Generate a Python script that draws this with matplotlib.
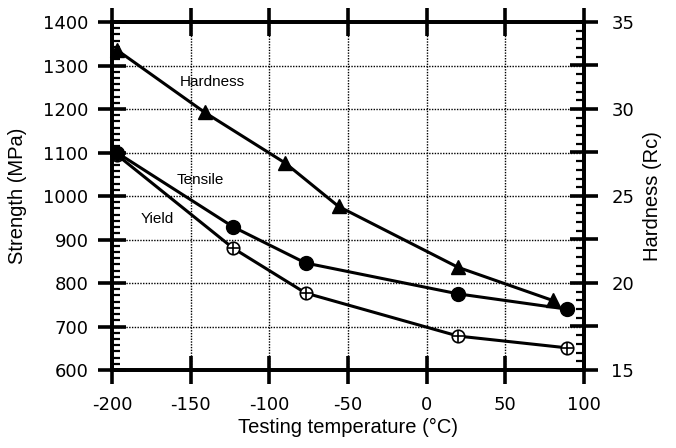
import numpy as np
import matplotlib.pyplot as plt
from matplotlib.ticker import MultipleLocator

# Data
temp_hard = [-197, -141, -90, -56, 20, 80]
hardness = [33.4, 29.8, 26.9, 24.4, 20.9, 19.0]

temp_str = [-197, -123, -77, 20, 89]
tensile = [1100, 929, 846, 775, 740]
yield_str = [1095, 880, 777, 678, 651]

x_ticks = [-200, -150, -100, -50, 0, 50, 100]
y_ticks = [600, 700, 800, 900, 1000, 1100, 1200, 1300, 1400]
rc_ticks = [15, 17.5, 20, 22.5, 25, 27.5, 30, 32.5, 35]
rc_labels = ['15', '', '20', '', '25', '', '30', '', '35']

plt.rcParams['font.family'] = ['Liberation Sans', 'DejaVu Sans']

fig = plt.figure(figsize=(6.76, 4.48), dpi=100)
ax = fig.add_axes([112/676, 1 - 370/448, 472/676, 348/448])
ax2 = ax.twinx()

ax.set_xlim(-200, 100)
ax.set_ylim(600, 1400)
ax2.set_ylim(15, 35)

ax.grid(True, color='black', linestyle=(0, (1, 1)), linewidth=1.0)
ax.set_axisbelow(True)

for s in ax.spines.values():
    s.set_linewidth(2.7)
for s in ax2.spines.values():
    s.set_linewidth(2.7)

tick_font = {'family': 'DejaVu Sans', 'size': 13}

ax.set_xticks(x_ticks)
ax.set_xticklabels([str(t) for t in x_ticks], fontdict=tick_font)
ax.set_yticks(y_ticks)
ax.set_yticklabels([str(t) for t in y_ticks], fontdict=tick_font)
ax.yaxis.set_minor_locator(MultipleLocator(100 / 7))
ax.tick_params(axis='x', which='major', direction='inout', length=19.5, width=2.6,
               top=True, labeltop=False, pad=9)
ax.tick_params(axis='y', which='major', direction='inout', length=20, width=2.6,
               pad=7)
ax.tick_params(axis='y', which='minor', direction='in', length=5.8, width=1.6)

ax2.set_yticks(rc_ticks)
ax2.set_yticklabels(rc_labels, fontdict=tick_font)
ax2.yaxis.set_minor_locator(MultipleLocator(0.5))
ax2.tick_params(axis='y', which='major', direction='inout', length=19.5, width=2.6,
                pad=10)
ax2.tick_params(axis='y', which='minor', direction='in', length=5.8, width=1.6)

ax.plot(temp_str, yield_str, color='black', lw=2.2, marker='o', ms=9,
        mfc='white', mec='black', mew=1.2, clip_on=False, zorder=3)
ax.plot(temp_str, yield_str, linestyle='none', marker='+', ms=9,
        mec='black', mew=1.2, clip_on=False, zorder=4)
ax.plot(temp_str, tensile, color='black', lw=2.2, marker='o', ms=10,
        mfc='black', mec='black', clip_on=False, zorder=5)
ax2.plot(temp_hard, hardness, color='black', lw=2.2, marker='^', ms=10,
         mfc='black', mec='black', clip_on=False, zorder=5)

ax.text(-136, 1262, 'Hardness', fontsize=11, ha='center', va='center')
ax.text(-144, 1037, 'Tensile', fontsize=11, ha='center', va='center')
ax.text(-171, 946, 'Yield', fontsize=11, ha='center', va='center')

ax.set_ylabel('Strength (MPa)', fontsize=14.5)
ax.yaxis.set_label_coords((27 - 112) / 472, 0.5)
ax2.set_ylabel('Hardness (Rc)', fontsize=14.5)
ax2.yaxis.set_label_coords((643 - 112) / 472, 0.5)
ax.set_xlabel('Testing temperature (°C)', fontsize=14.5)
ax.xaxis.set_label_coords(0.5, (370 - 418) / 348)

fig.savefig('out.png', dpi=100)
